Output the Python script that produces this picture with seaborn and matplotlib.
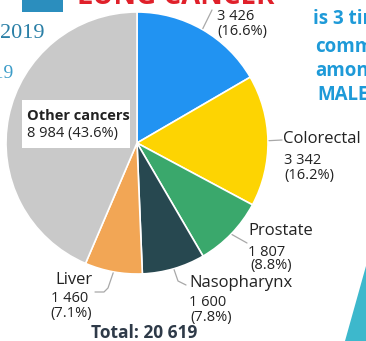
import numpy as np
import matplotlib
matplotlib.use("Agg")
import matplotlib.pyplot as plt
import seaborn as sns

# ---- data ----
categories = ["Lung", "Colorectal", "Prostate", "Nasopharynx", "Liver", "Other cancers"]
counts = [3426, 3342, 1807, 1600, 1460, 8984]
count_labels = ["3 426", "3 342", "1 807", "1 600", "1 460", "8 984"]
pct_labels = ["(16.6%)", "(16.2%)", "(8.8%)", "(7.8%)", "(7.1%)", "(43.6%)"]
total_label = "Total: 20 619"
colors = ["#2193F2", "#FDD402", "#3AA86C", "#274850", "#F2A655", "#C9C9C9"]

sns.set_theme(style="white")
plt.rcParams['font.family'] = ['Open Sans', 'DejaVu Sans']

W, H = 366, 341
fig = plt.figure(figsize=(W / 100, H / 100), dpi=100)
ax = fig.add_axes([0, 0, 1, 1])

cx, cy, R = 137, H - 143, 131
wedges, _ = ax.pie(counts, colors=colors, startangle=90, counterclock=False,
                   center=(cx, cy), radius=R,
                   wedgeprops=dict(edgecolor="white", linewidth=1.2))
ax.set_xlim(0, W)
ax.set_ylim(0, H)
ax.set_aspect('equal')
ax.axis('off')

def py(y):
    return H - y

# mid angles of wedges for leader anchors
fr = np.array(counts) / np.sum(counts)
cum = np.cumsum(fr) - fr / 2
mid = np.deg2rad(90 - 360 * cum)
def anchor(i, r=R + 1):
    return cx + r * np.cos(mid[i]), cy + r * np.sin(mid[i])

lc = "#A8A8A8"
tc = "#222222"
# leader lines
ends = {
    0: [(212, 10)],
    1: [(282, 140)],
    2: [(247, 243)],
    3: [(178, 281), (186, 285)],
    4: [(108, 288), (104, 292), (95, 292)],
}
for i, pts in ends.items():
    ax0, ay0 = anchor(i)
    xs = [ax0] + [p[0] for p in pts]
    ys = [ay0] + [py(p[1]) for p in pts]
    ax.plot(xs, ys, color=lc, lw=0.9, solid_capstyle='round', zorder=1)

name_fs = 12
num_fs = 10.5

def txt(x, y, s, **kw):
    kw.setdefault('color', tc)
    kw.setdefault('ha', 'left')
    kw.setdefault('va', 'center')
    ax.text(x, py(y), s, **kw)

# Lung (name in title)
txt(217, 16, count_labels[0], fontsize=num_fs)
txt(217, 31, pct_labels[0], fontsize=num_fs)
# Colorectal
txt(283, 139, categories[1], fontsize=name_fs)
txt(284, 161, count_labels[1], fontsize=num_fs)
txt(284, 175, pct_labels[1], fontsize=num_fs)
# Prostate
txt(248, 231, categories[2], fontsize=name_fs)
txt(248, 252, count_labels[2], fontsize=num_fs)
txt(250, 266, pct_labels[2], fontsize=num_fs)
# Nasopharynx
txt(189, 283, categories[3], fontsize=name_fs)
txt(189, 303, count_labels[3], fontsize=num_fs)
txt(190, 318, pct_labels[3], fontsize=num_fs)
# Liver
txt(55, 280, categories[4], fontsize=name_fs)
txt(51, 299, count_labels[4], fontsize=num_fs)
txt(50, 314, pct_labels[4], fontsize=num_fs)
# Other cancers box
ax.add_patch(plt.Rectangle((22, py(148)), 108, 48, facecolor="white",
                           edgecolor="none", zorder=3))
txt(27, 116, categories[5], fontsize=10.5, fontweight='bold', zorder=4)
txt(27, 133, f"{count_labels[5]} {pct_labels[5]}", fontsize=10.5, zorder=4)
# Total
txt(91, 333, total_label, fontsize=12.5, fontweight='bold', color="#2E3A48")

# cropped fragments of the surrounding infographic
ax.text(77, py(4), "LUNG CANCER", fontsize=20, fontweight='bold',
        color="#E0202A", ha='left', va='baseline')
ax.add_patch(plt.Rectangle((22, py(12)), 41, 14, facecolor="#2B8EBE",
                           edgecolor="none"))
ax.text(0, py(34), "2019", fontsize=16, color="#2A7FA6", ha='left',
        va='center', family=['Liberation Serif', 'DejaVu Serif'])
ax.text(13, py(73), "2019", fontsize=14, color="#3C9CC8", ha='right',
        va='center', family=['Liberation Serif', 'DejaVu Serif'])
bl = "#1E9AD8"
txt(313, 19, "is 3 times", fontsize=13.5, fontweight='bold', color=bl)
txt(315, 47, "common", fontsize=13.5, fontweight='bold', color=bl)
txt(315, 71, "among", fontsize=13.5, fontweight='bold', color=bl)
txt(317, 95, "MALES", fontsize=13.5, fontweight='bold', color=bl)
ax.add_patch(plt.Polygon([(345, 0), (366, py(266)), (366, 0)],
                         facecolor="#3DB8CC", edgecolor="none"))

fig.savefig("out.png", dpi=100)
